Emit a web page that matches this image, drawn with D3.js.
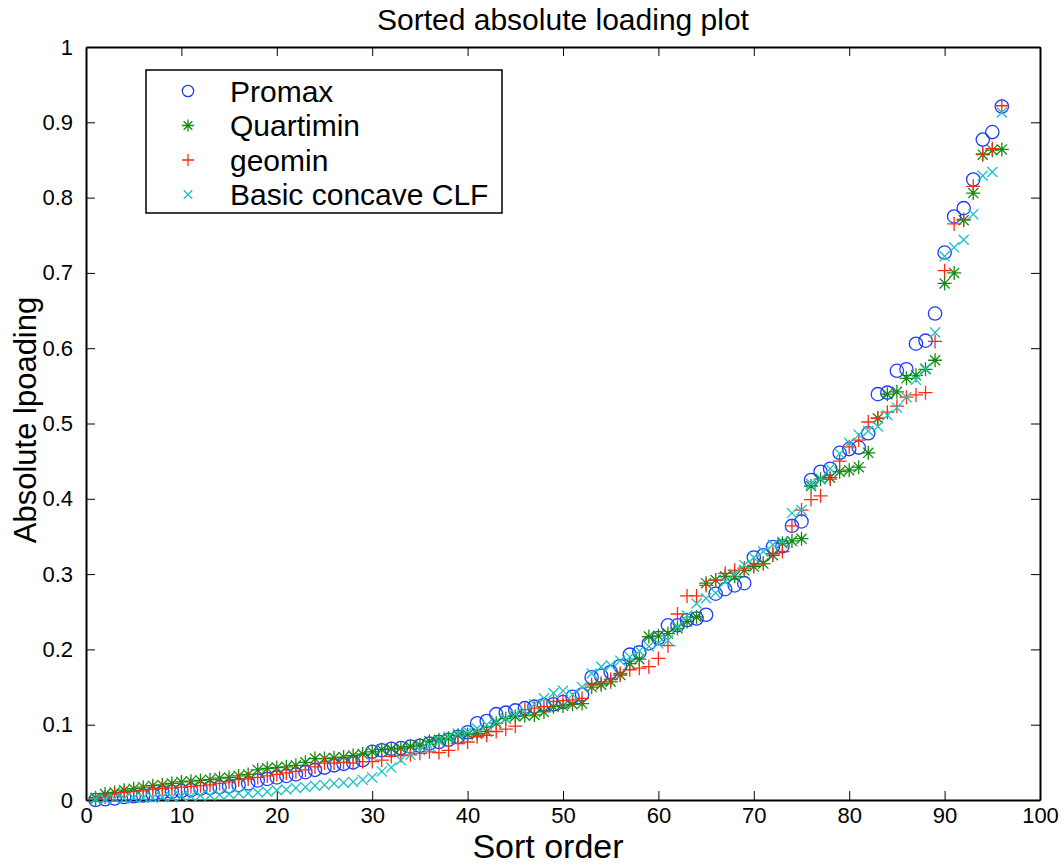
<!DOCTYPE html>
<html lang="en">
<head>
  <meta charset="UTF-8">
  <title>Sorted absolute loading plot</title>
  <script src="https://d3js.org/d3.v7.min.js"></script>
  <style>
    body {
      margin: 0;
      background-color: #fff;
    }
    svg text {
      font-family: "Liberation Sans", Arial, sans-serif;
      fill: #000;
    }
    .axis path, .axis line {
      stroke: #000;
    }
  </style>
</head>
<body>
  <svg id="chart"></svg>

  <script>
    const width = 1064;
    const height = 866;

    // sort order 1..96
    const sortOrder = d3.range(1, 97);

    const promax = [
      0.000, 0.001, 0.002, 0.004, 0.005, 0.006, 0.008, 0.010, 0.011, 0.012,
      0.013, 0.015, 0.016, 0.017, 0.018, 0.020, 0.022, 0.026, 0.028, 0.030,
      0.032, 0.034, 0.037, 0.040, 0.043, 0.046, 0.048, 0.050, 0.053, 0.064,
      0.066, 0.068, 0.069, 0.071, 0.072, 0.075, 0.077, 0.080, 0.084, 0.090,
      0.102, 0.105, 0.114, 0.116, 0.119, 0.122, 0.124, 0.126, 0.127, 0.130,
      0.137, 0.140, 0.163, 0.165, 0.170, 0.178, 0.193, 0.196, 0.208, 0.215,
      0.232, 0.232, 0.239, 0.241, 0.246, 0.274, 0.280, 0.285, 0.288, 0.322,
      0.325, 0.336, 0.337, 0.364, 0.370, 0.425, 0.436, 0.440, 0.461, 0.466,
      0.468, 0.487, 0.539, 0.541, 0.570, 0.572, 0.606, 0.610, 0.646, 0.727,
      0.775, 0.786, 0.824, 0.877, 0.887, 0.921
    ];

    const quartimin = [
      0.003, 0.008, 0.010, 0.013, 0.015, 0.017, 0.019, 0.020, 0.022, 0.024,
      0.025, 0.026, 0.027, 0.029, 0.030, 0.032, 0.034, 0.040, 0.042, 0.043,
      0.044, 0.046, 0.050, 0.055, 0.055, 0.056, 0.057, 0.059, 0.061, 0.064,
      0.067, 0.068, 0.069, 0.071, 0.073, 0.078, 0.080, 0.082, 0.086, 0.087,
      0.088, 0.091, 0.102, 0.108, 0.111, 0.112, 0.113, 0.117, 0.124, 0.125,
      0.127, 0.128, 0.150, 0.153, 0.157, 0.166, 0.181, 0.187, 0.217, 0.218,
      0.221, 0.228, 0.237, 0.243, 0.288, 0.292, 0.297, 0.297, 0.305, 0.310,
      0.314, 0.325, 0.341, 0.344, 0.347, 0.417, 0.426, 0.428, 0.436, 0.438,
      0.442, 0.461, 0.507, 0.539, 0.542, 0.560, 0.564, 0.572, 0.584, 0.686,
      0.700, 0.770, 0.806, 0.857, 0.863, 0.864
    ];

    const geomin = [
      0.001, 0.004, 0.008, 0.010, 0.011, 0.012, 0.014, 0.015, 0.016, 0.017,
      0.018, 0.019, 0.020, 0.022, 0.024, 0.027, 0.028, 0.030, 0.032, 0.034,
      0.036, 0.038, 0.040, 0.044, 0.049, 0.049, 0.050, 0.049, 0.051, 0.051,
      0.053, 0.058, 0.059, 0.060, 0.062, 0.064, 0.063, 0.066, 0.075, 0.077,
      0.084, 0.086, 0.091, 0.094, 0.098, 0.120, 0.122, 0.124, 0.131, 0.132,
      0.133, 0.135, 0.153, 0.155, 0.160, 0.168, 0.173, 0.175, 0.177, 0.188,
      0.205, 0.247, 0.271, 0.271, 0.285, 0.292, 0.301, 0.305, 0.308, 0.312,
      0.314, 0.327, 0.330, 0.364, 0.385, 0.399, 0.404, 0.426, 0.450, 0.469,
      0.478, 0.502, 0.507, 0.515, 0.523, 0.535, 0.538, 0.541, 0.609, 0.703,
      0.765, 0.771, 0.815, 0.858, 0.865, 0.922
    ];

    const concaveCLF = [
      0.001, 0.001, 0.002, 0.002, 0.003, 0.003, 0.003, 0.004, 0.004, 0.005,
      0.005, 0.006, 0.006, 0.007, 0.008, 0.009, 0.009, 0.010, 0.011, 0.013,
      0.014, 0.016, 0.017, 0.019, 0.020, 0.022, 0.023, 0.024, 0.027, 0.030,
      0.038, 0.043, 0.053, 0.060, 0.066, 0.072, 0.078, 0.084, 0.088, 0.091,
      0.095, 0.100, 0.104, 0.108, 0.114, 0.118, 0.127, 0.135, 0.142, 0.145,
      0.140, 0.150, 0.168, 0.177, 0.179, 0.185, 0.190, 0.198, 0.204, 0.208,
      0.212, 0.230, 0.245, 0.261, 0.268, 0.275, 0.290, 0.300, 0.312, 0.322,
      0.330, 0.339, 0.343, 0.381, 0.385, 0.420, 0.427, 0.440, 0.460, 0.474,
      0.485, 0.490, 0.496, 0.511, 0.521, 0.535, 0.558, 0.573, 0.621, 0.722,
      0.734, 0.744, 0.778, 0.829, 0.834, 0.913
    ];

    const seriesNames = ["Promax", "Quartimin", "geomin", "Basic concave CLF"];
    const seriesValues = [promax, quartimin, geomin, concaveCLF];
    const seriesColors = ["#1d3cff", "#138a13", "#ff2a10", "#17c4c4"];
    const seriesMarkers = ["circle", "star", "plus", "cross"];

    const xTicks = [0, 10, 20, 30, 40, 50, 60, 70, 80, 90, 100];
    const yTicks = [0, 0.1, 0.2, 0.3, 0.4, 0.5, 0.6, 0.7, 0.8, 0.9, 1];
    const yTickLabels = ["0", "0.1", "0.2", "0.3", "0.4", "0.5", "0.6", "0.7", "0.8", "0.9", "1"];

    const margin = {top: 47, right: 24, bottom: 66, left: 86};
    const plotW = width - margin.left - margin.right;
    const plotH = height - margin.top - margin.bottom;

    const svg = d3.select("#chart")
      .attr("width", width)
      .attr("height", height);

    const x = d3.scaleLinear().domain([0, 100]).range([0, plotW]);
    const y = d3.scaleLinear().domain([0, 1]).range([plotH, 0]);

    const g = svg.append("g")
      .attr("transform", `translate(${margin.left},${margin.top})`);

    // axes, matlab style ticks pointing inward
    const tickLen = 9;
    g.append("g")
      .attr("class", "axis")
      .attr("transform", `translate(0,${plotH})`)
      .call(d3.axisBottom(x).tickValues(xTicks).tickSize(-tickLen).tickSizeOuter(0).tickPadding(7))
      .call(a => a.selectAll("text").style("font-size", "22px"));

    g.append("g")
      .attr("class", "axis")
      .call(d3.axisLeft(y).tickValues(yTicks).tickFormat((d, i) => yTickLabels[i]).tickSize(-tickLen).tickSizeOuter(0).tickPadding(13))
      .call(a => a.selectAll("text").style("font-size", "22px"));

    g.append("g")
      .attr("class", "axis")
      .call(d3.axisTop(x).tickValues(xTicks).tickSize(-tickLen).tickSizeOuter(0).tickFormat(""));

    g.append("g")
      .attr("class", "axis")
      .attr("transform", `translate(${plotW},0)`)
      .call(d3.axisRight(y).tickValues(yTicks).tickSize(-tickLen).tickSizeOuter(0).tickFormat(""));

    g.selectAll(".axis path.domain").attr("stroke-width", 2);

    // marker shapes
    function marker(sel, type, color, s) {
      sel.attr("fill", "none").attr("stroke", color).attr("stroke-width", 1.3);
      if (type === "circle") {
        sel.append("circle").attr("r", s * 0.95);
      } else if (type === "plus") {
        sel.append("path").attr("d", `M${-s},0H${s}M0,${-s}V${s}`);
      } else if (type === "cross") {
        const c = s * 0.72;
        sel.append("path").attr("d", `M${-c},${-c}L${c},${c}M${-c},${c}L${c},${-c}`);
      } else if (type === "star") {
        const c = s * 0.72;
        sel.append("path").attr("d",
          `M${-s},0H${s}M0,${-s}V${s}M${-c},${-c}L${c},${c}M${-c},${c}L${c},${-c}`);
      }
    }

    const plot = g.append("g");
    seriesValues.forEach((vals, si) => {
      plot.append("g")
        .selectAll("g")
        .data(vals)
        .enter().append("g")
        .attr("transform", (d, i) => `translate(${x(sortOrder[i])},${y(d)})`)
        .each(function() {
          marker(d3.select(this), seriesMarkers[si], seriesColors[si], 7);
        });
    });

    // legend
    const legend = svg.append("g").attr("transform", "translate(146,70)");
    legend.append("rect")
      .attr("width", 356).attr("height", 143)
      .attr("fill", "#fff").attr("stroke", "#000").attr("stroke-width", 1.5);
    seriesNames.forEach((name, i) => {
      const row = legend.append("g").attr("transform", `translate(0,${21 + i * 34.5})`);
      row.append("g").attr("transform", "translate(42,0)")
        .call(sel => marker(sel, seriesMarkers[i], seriesColors[i], 6));
      row.append("text")
        .attr("x", 84).attr("dy", "0.36em")
        .style("font-size", "30px")
        .text(name);
    });

    // title and axis labels
    svg.append("text")
      .attr("x", margin.left + plotW / 2).attr("y", 30)
      .attr("text-anchor", "middle")
      .style("font-size", "30px")
      .text("Sorted absolute loading plot");

    svg.append("text")
      .attr("x", 548).attr("y", 858)
      .attr("text-anchor", "middle")
      .style("font-size", "34px")
      .text("Sort order");

    svg.append("text")
      .attr("transform", "translate(36,420) rotate(-90)")
      .attr("text-anchor", "middle")
      .style("font-size", "31px")
      .text("Absolute lpoading");
  </script>
</body>
</html>
